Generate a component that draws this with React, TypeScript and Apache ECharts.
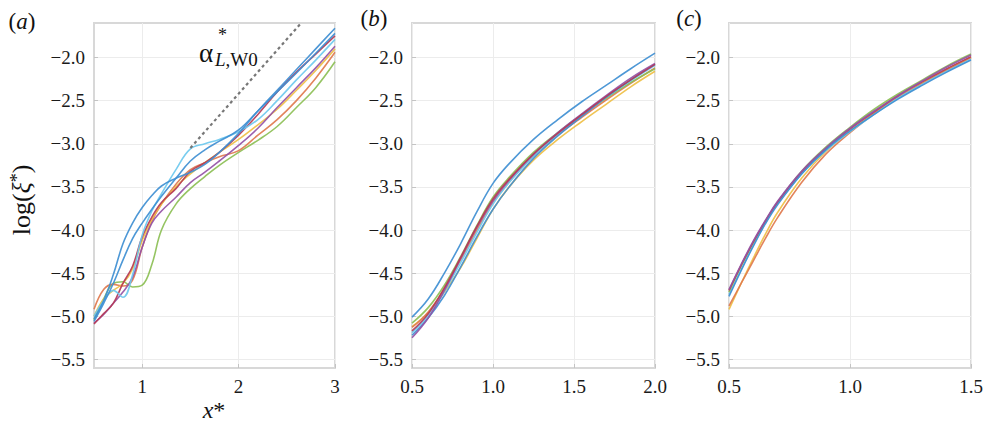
import React, { useEffect, useRef } from "react";
import * as echarts from "echarts";

// ---------- data ----------
const yTicks = [-5.5, -5.0, -4.5, -4.0, -3.5, -3.0, -2.5, -2.0];
const xTicksA = [1, 2, 3];
const xTicksB = [0.5, 1.0, 1.5, 2.0];
const xTicksC = [0.5, 1.0, 1.5];

// panel (a)
const xA = [0.5, 0.6, 0.7, 0.8, 0.9, 1.0, 1.1, 1.2, 1.35, 1.5, 1.65, 1.8, 2.0, 2.2, 2.4, 2.6, 2.8, 3.0];
const aBlue1 = [-5.03, -4.82, -4.52, -4.16, -3.92, -3.74, -3.6, -3.49, -3.4, -3.33, -3.24, -3.1, -2.88, -2.62, -2.38, -2.14, -1.9, -1.66];
const aBlue2 = [-5.06, -4.85, -4.62, -4.35, -4.1, -3.92, -3.76, -3.61, -3.4, -3.2, -3.07, -2.97, -2.84, -2.62, -2.4, -2.18, -1.95, -1.72];
const aCyan = [-5.0, -4.82, -4.7, -4.78, -4.52, -4.06, -3.78, -3.58, -3.3, -3.06, -3.0, -2.95, -2.86, -2.72, -2.5, -2.26, -2.03, -1.79];
const aOrange = [-4.92, -4.69, -4.63, -4.65, -4.58, -4.2, -3.9, -3.7, -3.47, -3.3, -3.22, -3.15, -3.08, -2.9, -2.72, -2.5, -2.24, -1.94];
const aYellow = [-5.0, -4.8, -4.7, -4.62, -4.45, -4.12, -3.88, -3.7, -3.5, -3.35, -3.22, -3.1, -2.95, -2.78, -2.6, -2.38, -2.15, -1.9];
const aPurple = [-5.08, -4.98, -4.85, -4.72, -4.55, -4.2, -3.92, -3.78, -3.62, -3.45, -3.33, -3.2, -3.02, -2.82, -2.58, -2.35, -2.12, -1.87];
const aRed = [-5.09, -4.97, -4.85, -4.62, -4.42, -4.08, -3.85, -3.68, -3.52, -3.32, -3.22, -3.1, -2.9, -2.66, -2.4, -2.17, -1.96, -1.75];
const aGreen = [-5.04, -4.8, -4.62, -4.6, -4.66, -4.64, -4.4, -4.0, -3.7, -3.52, -3.38, -3.25, -3.1, -2.96, -2.8, -2.58, -2.35, -2.05];
const slopeX = [1.5, 2.65];
const slopeY = [-3.05, -1.6];

// panel (b)
const xB = [0.5, 0.6, 0.7, 0.8, 0.9, 1.0, 1.1, 1.25, 1.4, 1.55, 1.7, 1.85, 2.0];
const bBlue1 = [-5.01, -4.8, -4.5, -4.16, -3.79, -3.46, -3.23, -2.95, -2.72, -2.51, -2.32, -2.13, -1.95];
const bGreen = [-5.08, -4.9, -4.64, -4.31, -3.95, -3.62, -3.39, -3.1, -2.87, -2.66, -2.47, -2.29, -2.13];
const bRed = [-5.17, -4.97, -4.67, -4.32, -3.96, -3.64, -3.41, -3.12, -2.88, -2.66, -2.45, -2.26, -2.08];
const bPurple = [-5.25, -5.02, -4.7, -4.33, -3.97, -3.66, -3.42, -3.12, -2.87, -2.65, -2.44, -2.24, -2.07];
const bBlue2 = [-5.22, -5.02, -4.76, -4.43, -4.08, -3.76, -3.5, -3.17, -2.91, -2.68, -2.46, -2.26, -2.08];
const bYellow = [-5.12, -4.96, -4.72, -4.44, -4.1, -3.76, -3.5, -3.19, -2.95, -2.74, -2.54, -2.34, -2.16];
const bCyan = [-5.19, -4.99, -4.71, -4.38, -4.03, -3.7, -3.45, -3.14, -2.89, -2.67, -2.46, -2.27, -2.09];
const bOrange = [-5.13, -4.95, -4.68, -4.35, -4.0, -3.68, -3.44, -3.14, -2.9, -2.69, -2.49, -2.3, -2.12];

// panel (c)
const xC = [0.5, 0.55, 0.6, 0.65, 0.7, 0.8, 0.9, 1.0, 1.1, 1.2, 1.3, 1.4, 1.5];
const cPurple = [-4.69, -4.4, -4.13, -3.89, -3.67, -3.32, -3.05, -2.82, -2.62, -2.44, -2.27, -2.11, -1.97];
const cRed = [-4.7, -4.41, -4.14, -3.9, -3.68, -3.33, -3.06, -2.83, -2.63, -2.44, -2.28, -2.13, -1.99];
const cGreen = [-4.72, -4.42, -4.15, -3.9, -3.68, -3.32, -3.04, -2.81, -2.6, -2.42, -2.26, -2.1, -1.96];
const cBlue = [-4.77, -4.47, -4.19, -3.93, -3.71, -3.35, -3.07, -2.85, -2.66, -2.48, -2.32, -2.17, -2.03];
const cCyan = [-4.75, -4.46, -4.18, -3.92, -3.7, -3.35, -3.08, -2.86, -2.66, -2.47, -2.31, -2.16, -2.02];
const cOrange = [-4.88, -4.62, -4.36, -4.1, -3.86, -3.45, -3.12, -2.87, -2.65, -2.46, -2.3, -2.15, -2.0];
const cYellow = [-4.92, -4.62, -4.33, -4.05, -3.8, -3.4, -3.09, -2.85, -2.64, -2.45, -2.29, -2.14, -2.0];

// ---------- styles ----------
const COL = {
  blue: "#3f8fd2",
  orange: "#e07a4e",
  yellow: "#efbf45",
  purple: "#9452a6",
  green: "#8cbf55",
  cyan: "#6ec9ee",
  red: "#b53a56",
};
const SERIF = "Liberation Serif";

const pair = (xs: number[], ys: number[]) => xs.map((x, i) => [x, ys[i]]);

const line = (idx: number, xs: number[], ys: number[], color: string) => ({
  type: "line",
  xAxisIndex: idx,
  yAxisIndex: idx,
  data: pair(xs, ys),
  smooth: 0.4,
  showSymbol: false,
  symbol: "none",
  lineStyle: { color, width: 1.6, opacity: 0.92 },
  z: 3,
});

const minus = (v: number) => v.toFixed(1).replace("-", "\u2212");

export default function App() {
  const ref = useRef<HTMLDivElement>(null);
  useEffect(() => {
    if (!ref.current) return;
    const chart = echarts.init(ref.current, undefined, { renderer: "svg" });
    const grids = [
      { left: 94, top: 23, width: 241, height: 345 },
      { left: 412, top: 23, width: 243, height: 345 },
      { left: 729, top: 23, width: 242, height: 345 },
    ].map((g) => ({ ...g, show: true, borderColor: "#d8d8d8", borderWidth: 2, backgroundColor: "#fff" }));

    const xCfg = [
      { min: 0.5, max: 3, ticks: xTicksA, fmt: (v: number) => String(v) },
      { min: 0.5, max: 2, ticks: xTicksB, fmt: (v: number) => v.toFixed(1) },
      { min: 0.5, max: 1.5, ticks: xTicksC, fmt: (v: number) => v.toFixed(1) },
    ];
    const xAxis = xCfg.map((c, i) => ({
      type: "value",
      gridIndex: i,
      min: c.min,
      max: c.max,
      axisLine: { show: false },
      axisTick: { show: true, inside: true, length: 4, customValues: c.ticks, lineStyle: { color: "#c4c4c4" } },
      axisLabel: {
        customValues: c.ticks,
        formatter: c.fmt,
        fontFamily: SERIF,
        fontSize: 19,
        color: "#1a1a1a",
        margin: 9,
      },
      splitLine: { show: true, lineStyle: { color: "#ececec", width: 1 } },
    }));
    const yAxis = [0, 1, 2].map((i) => ({
      type: "value",
      gridIndex: i,
      min: -5.6,
      max: -1.6,
      axisLine: { show: false },
      axisTick: { show: true, inside: true, length: 4, customValues: yTicks, lineStyle: { color: "#c4c4c4" } },
      axisLabel: {
        customValues: yTicks,
        formatter: minus,
        fontFamily: SERIF,
        fontSize: 19,
        color: "#1a1a1a",
        margin: 9,
      },
      splitLine: { show: true, lineStyle: { color: "#ececec", width: 1 } },
    }));

    const series: any[] = [
      line(0, xA, aGreen, COL.green),
      line(0, xA, aOrange, COL.orange),
      line(0, xA, aYellow, COL.yellow),
      line(0, xA, aPurple, COL.purple),
      line(0, xA, aRed, COL.red),
      line(0, xA, aCyan, COL.cyan),
      line(0, xA, aBlue2, COL.blue),
      line(0, xA, aBlue1, COL.blue),
      {
        type: "line",
        xAxisIndex: 0,
        yAxisIndex: 0,
        data: pair(slopeX, slopeY),
        showSymbol: false,
        symbol: "none",
        lineStyle: { color: "#777", width: 2.2, type: [3, 3] },
        z: 4,
      },
      line(1, xB, bYellow, COL.yellow),
      line(1, xB, bOrange, COL.orange),
      line(1, xB, bGreen, COL.green),
      line(1, xB, bCyan, COL.cyan),
      line(1, xB, bBlue2, COL.blue),
      line(1, xB, bPurple, COL.purple),
      line(1, xB, bRed, COL.red),
      line(1, xB, bBlue1, COL.blue),
      line(2, xC, cYellow, COL.yellow),
      line(2, xC, cOrange, COL.orange),
      line(2, xC, cCyan, COL.cyan),
      line(2, xC, cGreen, COL.green),
      line(2, xC, cRed, COL.red),
      line(2, xC, cPurple, COL.purple),
      line(2, xC, cBlue, COL.blue),
    ];

    const txt = (x: number, y: number, text: string, size: number, rich: any = {}, extra: any = {}, align = "center") => ({
      type: "text",
      x,
      y,
      z: 10,
      ...extra,
      style: {
        text,
        fontFamily: SERIF,
        fontSize: size,
        fill: "#111",
        align,
        verticalAlign: "middle",
        rich,
      },
    });
    const it = (size: number) => ({ fontStyle: "italic", fontFamily: SERIF, fontSize: size, fill: "#111" });

    chart.setOption({
      animation: false,
      backgroundColor: "#fff",
      grid: grids,
      xAxis,
      yAxis,
      series,
      graphic: [
        txt(22, 21, "({i|a})", 23, { i: it(23) }),
        txt(374, 18, "({i|b})", 23, { i: it(23) }),
        txt(689, 18, "({i|c})", 23, { i: it(23) }),
        txt(214, 410, "{i|x}*", 24, { i: it(24) }),
        txt(21, 200, "log({i|ξ}{s|*})", 26, { i: it(26), s: { fontFamily: SERIF, fontSize: 18, fill: "#111", verticalAlign: "top", padding: [0, 0, 8, 0] } }, { rotation: Math.PI / 2 }),
        txt(206, 53, "α", 27),
        txt(218, 35, "*", 18, {}, {}, "left"),
        txt(215, 59, "{i|L},W0", 19, { i: it(19) }, {}, "left"),
      ],
    });
    return () => chart.dispose();
  }, []);
  return (
    <div
      ref={ref}
      style={{ position: "fixed", left: 0, top: 0, width: 987, height: 423, background: "#fff" }}
    />
  );
}
